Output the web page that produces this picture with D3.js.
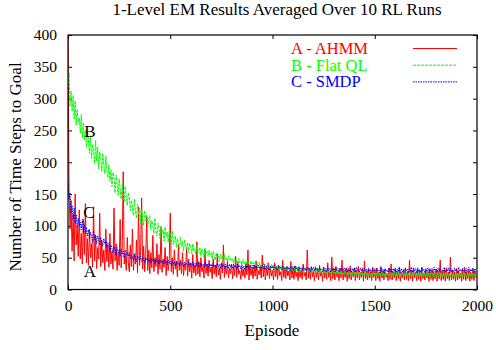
<!DOCTYPE html>
<html>
<head>
<meta charset="utf-8">
<script src="https://cdn.jsdelivr.net/npm/d3@7"></script>
<style>
  body { margin: 0; background: #fff; }
  svg { display: block; font-family: "Liberation Serif", "Times New Roman", serif; }
  svg text { font-family: "Liberation Serif", "Times New Roman", serif; }
</style>
</head>
<body>
<div id="chart"></div>
<script>
const episodes = d3.range(0, 2000, 5);

// A - AHMM (red)
const ahmm = [
  400, 160, 95, 140, 60, 118, 45, 150, 70, 100, 52, 125, 48, 88, 40, 110, 55, 135, 42, 80,
  38, 95, 50, 72, 35, 130, 45, 85, 33, 66, 48, 120, 36, 78, 42, 62, 30, 95, 44, 70,
  35, 88, 40, 60, 32, 128, 45, 72, 30, 58, 38, 110, 34, 65, 185, 40, 55, 30, 82, 42,
  28, 70, 36, 95, 30, 56, 40, 78, 26, 130, 38, 60, 144, 32, 68, 28, 52, 115, 30, 62,
  25, 58, 34, 85, 28, 50, 36, 72, 24, 55, 32, 98, 27, 48, 35, 66, 22, 52, 30, 45,
  120, 28, 50, 24, 62, 32, 44, 20, 70, 30, 46, 25, 58, 22, 40, 30, 66, 21, 48, 28,
  42, 18, 55, 26, 38, 22, 75, 24, 44, 20, 50, 28, 36, 18, 62, 25, 40, 21, 46, 27,
  35, 17, 48, 24, 38, 20, 56, 23, 34, 16, 42, 26, 70, 19, 37, 24, 45, 18, 33, 25,
  40, 17, 36, 22, 52, 19, 44, 24, 30, 16, 35, 21, 33, 18, 41, 23, 62, 15, 38, 22,
  34, 17, 38, 21, 45, 16, 30, 23, 36, 18, 54, 20, 40, 15, 33, 22, 42, 17, 35, 21,
  30, 15, 42, 20, 34, 16, 38, 22, 28, 14, 46, 19, 33, 17, 36, 21, 29, 15, 44, 18,
  32, 16, 37, 20, 28, 14, 35, 19, 30, 16, 40, 21, 27, 15, 62, 18, 33, 16, 36, 20,
  29, 14, 34, 19, 31, 15, 38, 21, 27, 13, 35, 18, 30, 16, 42, 19, 28, 14, 51, 17,
  32, 15, 36, 20, 28, 14, 33, 18, 46, 15, 29, 19, 34, 13, 31, 17, 37, 15, 28, 20,
  33, 14, 30, 18, 36, 15, 27, 19, 34, 13, 45, 17, 29, 15, 32, 18, 28, 14, 35, 19,
  30, 14, 33, 17, 27, 13, 36, 18, 29, 15, 31, 19, 26, 14, 34, 16, 40, 15, 28, 18,
  32, 14, 29, 17, 35, 13, 27, 18, 31, 15, 33, 16, 28, 14, 46, 17, 30, 13, 34, 18,
  27, 14, 32, 16, 29, 13, 35, 17, 26, 15, 31, 18, 28, 13, 33, 16, 30, 14, 27, 17,
  32, 13, 29, 17, 46, 14, 28, 16, 31, 13, 34, 17, 27, 14, 51, 15, 30, 16, 28, 13,
  33, 15, 29, 17, 26, 13, 31, 16, 35, 14, 28, 17, 30, 13, 27, 16, 32, 14, 29, 18
];

// B - Flat QL (green)
const flatql = [
  318, 340, 288, 312, 280, 305, 268, 296, 258, 283, 262, 270, 246, 275, 238, 262, 235, 251, 224, 248,
  236, 214, 242, 206, 228, 220, 198, 234, 202, 224, 190, 216, 208, 186, 214, 196, 182, 210, 188, 176,
  196, 170, 188, 162, 184, 176, 152, 180, 166, 148, 174, 158, 142, 166, 150, 138, 162, 144, 132, 152,
  146, 124, 140, 130, 116, 142, 122, 112, 134, 118, 128, 104, 126, 114, 100, 124, 108, 118, 98, 112,
  116, 94, 108, 100, 88, 112, 92, 84, 104, 96, 80, 100, 88, 94, 76, 98, 84, 90, 74, 92,
  86, 72, 92, 70, 78, 84, 66, 80, 74, 62, 82, 68, 76, 60, 78, 70, 64, 74, 58, 72,
  68, 56, 72, 60, 64, 54, 70, 58, 62, 66, 52, 64, 58, 50, 66, 56, 60, 52, 62, 54,
  58, 48, 60, 52, 46, 58, 50, 54, 44, 56, 48, 52, 42, 55, 47, 50, 44, 53, 46, 49,
  44, 48, 41, 50, 43, 46, 40, 49, 42, 45, 39, 47, 41, 44, 38, 46, 40, 43, 37, 45,
  39, 42, 36, 44, 38, 41, 35, 43, 37, 40, 34, 42, 36, 39, 33, 41, 35, 38, 33, 40,
  34, 38, 32, 39, 34, 37, 31, 38, 33, 36, 30, 37, 32, 35, 30, 36, 31, 34, 29, 36,
  31, 34, 29, 35, 30, 33, 28, 34, 30, 32, 27, 34, 29, 31, 27, 33, 28, 31, 26, 32,
  28, 31, 26, 32, 27, 30, 25, 31, 27, 29, 25, 30, 26, 29, 24, 31, 26, 28, 24, 30,
  26, 29, 24, 30, 25, 28, 23, 29, 25, 27, 23, 29, 24, 27, 22, 28, 24, 27, 22, 29,
  24, 28, 22, 29, 24, 27, 22, 28, 23, 26, 21, 28, 23, 26, 21, 27, 23, 26, 21, 28,
  23, 27, 21, 28, 23, 26, 21, 27, 22, 25, 20, 27, 22, 26, 21, 27, 22, 25, 20, 27,
  22, 26, 20, 27, 22, 25, 20, 26, 22, 25, 20, 27, 21, 25, 20, 26, 22, 25, 19, 26,
  22, 26, 20, 27, 21, 25, 19, 26, 22, 24, 20, 27, 21, 25, 19, 26, 22, 25, 20, 26,
  21, 26, 20, 27, 22, 25, 19, 26, 21, 24, 20, 26, 22, 25, 19, 27, 21, 24, 20, 26,
  22, 25, 19, 26, 21, 25, 20, 27, 22, 24, 19, 26, 21, 25, 20, 26, 22, 24, 19, 26
];

// C - SMDP (blue)
const smdp = [
  170, 142, 152, 120, 132, 110, 128, 104, 118, 98, 112, 100, 106, 94, 110, 90, 102, 88, 98, 84,
  94, 80, 90, 84, 74, 92, 78, 86, 72, 84, 80, 70, 82, 74, 68, 80, 72, 76, 66, 74,
  72, 60, 70, 64, 58, 68, 62, 54, 66, 58, 62, 52, 64, 56, 60, 50, 62, 54, 58, 52,
  58, 48, 54, 51, 46, 56, 50, 44, 53, 49, 46, 52, 44, 50, 47, 42, 51, 46, 48, 43,
  48, 42, 49, 44, 47, 41, 48, 43, 46, 40, 47, 42, 45, 40, 46, 41, 44, 39, 46, 41,
  44, 38, 45, 40, 43, 37, 45, 40, 42, 37, 44, 39, 42, 36, 43, 39, 41, 36, 43, 38,
  42, 36, 43, 38, 41, 35, 43, 38, 41, 35, 42, 37, 40, 35, 42, 37, 40, 34, 41, 37,
  40, 34, 42, 36, 39, 34, 41, 36, 39, 33, 41, 36, 39, 33, 40, 35, 38, 33, 40, 35,
  39, 33, 40, 35, 38, 32, 40, 35, 38, 32, 39, 34, 37, 32, 39, 34, 37, 31, 38, 34,
  38, 32, 39, 34, 37, 31, 38, 34, 36, 31, 38, 33, 36, 31, 37, 33, 36, 30, 37, 33,
  37, 31, 38, 33, 36, 30, 37, 33, 35, 30, 37, 32, 35, 30, 36, 32, 35, 29, 36, 32,
  36, 30, 37, 32, 35, 29, 36, 32, 34, 29, 36, 31, 34, 29, 35, 31, 34, 28, 35, 31,
  35, 29, 36, 31, 34, 28, 35, 31, 33, 28, 35, 30, 33, 28, 34, 30, 33, 27, 34, 30,
  34, 28, 35, 30, 33, 27, 34, 30, 33, 27, 34, 29, 32, 27, 34, 29, 32, 27, 33, 29,
  34, 27, 35, 29, 32, 27, 34, 29, 32, 26, 33, 29, 32, 27, 34, 28, 32, 26, 33, 29,
  33, 27, 34, 29, 31, 26, 35, 28, 32, 26, 33, 29, 31, 27, 34, 28, 32, 26, 33, 29,
  34, 27, 32, 29, 35, 26, 33, 28, 31, 27, 34, 29, 32, 26, 33, 28, 35, 27, 32, 29,
  33, 26, 34, 28, 31, 27, 35, 29, 32, 26, 33, 28, 34, 27, 31, 29, 33, 26, 35, 28,
  32, 27, 34, 29, 33, 26, 31, 28, 35, 27, 32, 29, 34, 26, 33, 28, 31, 27, 34, 29,
  33, 26, 35, 28, 32, 27, 34, 29, 31, 26, 33, 28, 35, 27, 32, 29, 34, 26, 33, 28
];

const xTicks = [0, 500, 1000, 1500, 2000];
const yTicks = [0, 50, 100, 150, 200, 250, 300, 350, 400];
const seriesNames = ["A - AHMM", "B - Flat QL", "C - SMDP"];
const seriesLetters = ["A", "B", "C"];

const serif = "'Liberation Serif', 'Times New Roman', serif";

const width = 496, height = 350,
      margin = ({top: 35, right: 19, bottom: 60.5, left: 68});

const svg = d3.select("#chart")
  .append("svg")
  .attr("width", width)
  .attr("height", height)
  .attr("viewBox", [0, 0, width, height]);

const x = d3.scaleLinear()
  .domain([0, 2000])
  .range([margin.left, width - margin.right]);

const y = d3.scaleLinear()
  .domain([0, 400])
  .range([height - margin.bottom, margin.top]);

// axis text: same serif as the rest, not d3's default sans-serif
const styleAxis = g => g
  .attr("font-family", serif)
  .attr("font-size", null)
  .call(g => g.select(".domain").remove())
  .call(g => g.selectAll("text")
    .style("font-family", serif)
    .style("font-size", "15.5px")
    .attr("fill", "#000"));

// gnuplot style: ticks point inwards on all four sides
svg.append("g")
  .attr("transform", `translate(0,${height - margin.bottom})`)
  .call(d3.axisBottom(x).tickValues(xTicks).tickFormat(d3.format("d")).tickSize(-4).tickPadding(10))
  .call(styleAxis);

svg.append("g")
  .attr("transform", `translate(${margin.left},0)`)
  .call(d3.axisLeft(y).tickValues(yTicks).tickFormat(d3.format("d")).tickSize(-4).tickPadding(11))
  .call(styleAxis);

svg.append("g")
  .attr("transform", `translate(0,${margin.top})`)
  .call(d3.axisTop(x).tickValues(xTicks).tickSize(-4).tickFormat(""))
  .call(styleAxis);

svg.append("g")
  .attr("transform", `translate(${width - margin.right},0)`)
  .call(d3.axisRight(y).tickValues(yTicks).tickSize(-4).tickFormat(""))
  .call(styleAxis);

svg.append("clipPath")
  .attr("id", "plot-clip")
  .append("rect")
  .attr("x", margin.left)
  .attr("y", margin.top)
  .attr("width", width - margin.left - margin.right)
  .attr("height", height - margin.top - margin.bottom);

const series = [
  {name: seriesNames[0], values: ahmm, color: "#ff0000", dash: null},
  {name: seriesNames[1], values: flatql, color: "#00ff00", dash: "3,1"},
  {name: seriesNames[2], values: smdp, color: "#0000ff", dash: "1.5,1"}
];

const line = d3.line()
  .x((d, i) => x(episodes[i]))
  .y(d => y(d));

svg.append("g")
  .attr("clip-path", "url(#plot-clip)")
  .selectAll("path")
  .data(series)
  .join("path")
  .attr("fill", "none")
  .attr("stroke", d => d.color)
  .attr("stroke-width", 1)
  .attr("stroke-dasharray", d => d.dash)
  .attr("d", d => line(d.values));

// frame
svg.append("rect")
  .attr("x", margin.left)
  .attr("y", margin.top)
  .attr("width", width - margin.left - margin.right)
  .attr("height", height - margin.top - margin.bottom)
  .attr("fill", "none")
  .attr("stroke", "#000")
  .attr("stroke-width", 1.2);

// letters next to the curves
const letterPos = [[90, 277], [90, 137], [89, 218]];
svg.selectAll(".letter")
  .data(seriesLetters)
  .join("text")
  .attr("class", "letter")
  .attr("x", (d, i) => letterPos[i][0])
  .attr("y", (d, i) => letterPos[i][1])
  .attr("text-anchor", "middle")
  .style("font-size", "17px")
  .text(d => d);

// legend
const legend = svg.append("g");
series.forEach((s, i) => {
  const ly = 48.5 + i * 16.7;
  legend.append("text")
    .attr("x", 291)
    .attr("y", ly + 5.3)
    .attr("fill", s.color)
    .style("font-size", "16.5px")
    .text(s.name);
  legend.append("line")
    .attr("x1", 413).attr("x2", 457)
    .attr("y1", ly).attr("y2", ly)
    .attr("stroke", s.color)
    .attr("stroke-width", 1)
    .attr("stroke-dasharray", s.dash);
});

// titles
svg.append("text")
  .attr("x", 277)
  .attr("y", 15)
  .attr("text-anchor", "middle")
  .style("font-size", "17px")
  .text("1-Level EM Results Averaged Over 10 RL Runs");

svg.append("text")
  .attr("x", 272)
  .attr("y", 336)
  .attr("text-anchor", "middle")
  .style("font-size", "17px")
  .text("Episode");

svg.append("text")
  .attr("transform", "translate(21,167) rotate(-90)")
  .attr("text-anchor", "middle")
  .style("font-size", "17px")
  .text("Number of Time Steps to Goal");
</script>
</body>
</html>
